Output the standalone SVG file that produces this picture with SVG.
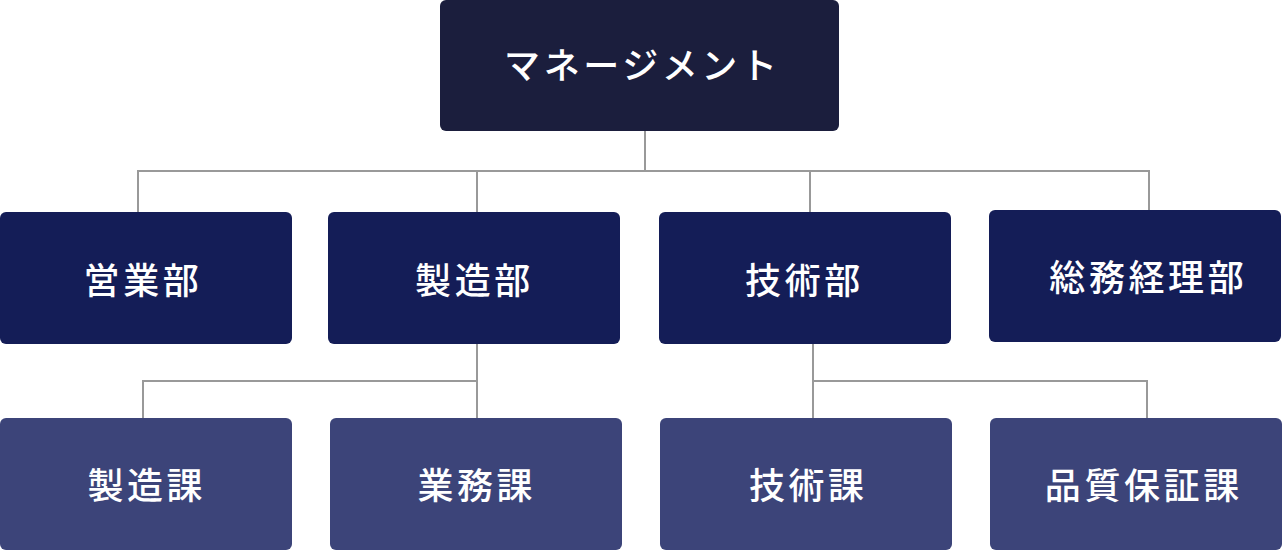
<svg xmlns="http://www.w3.org/2000/svg" width="1282" height="550" viewBox="0 0 1282 550">
  <style>
    .top { fill: #1b1e3d; }
    .dept { fill: #141d57; }
    .sec { fill: #3c4479; }
    .lbl { fill: #ffffff; font-family: "Noto Sans CJK JP", "Noto Sans", sans-serif; font-size: 36px; font-weight: 500; letter-spacing: 3.6px; text-anchor: middle; }
    .conn { fill: none; stroke: #999999; stroke-width: 2; }
  </style>
  <rect width="1282" height="550" fill="#ffffff"/>
  <g id="connectors">
    <path class="conn" d="M645 131 V171 M138 212 V171 H1149 V210 M477 171 V212 M810 171 V212"/>
    <path class="conn" d="M477 344 V381 M143 418 V381 H477 V418"/>
    <path class="conn" d="M813 344 V381 M813 381 V418 M813 381 H1147 V418"/>
  </g>
  <g id="management">
    <rect class="top" x="440" y="0" width="399" height="131" rx="6"/>
    <text class="lbl" x="642.3" y="79">マネージメント</text>
  </g>
  <g id="eigyobu">
    <rect class="dept" x="0" y="212" width="292" height="132" rx="6"/>
    <text class="lbl" x="143" y="293.5">営業部</text>
  </g>
  <g id="seizobu">
    <rect class="dept" x="328" y="212" width="292" height="132" rx="6"/>
    <text class="lbl" x="474.5" y="293.5">製造部</text>
  </g>
  <g id="gijutsubu">
    <rect class="dept" x="659" y="212" width="292" height="132" rx="6"/>
    <text class="lbl" x="804.5" y="293.5">技術部</text>
  </g>
  <g id="somukeiribu">
    <rect class="dept" x="989" y="210" width="292" height="132" rx="6"/>
    <text class="lbl" x="1148.3" y="291">総務経理部</text>
  </g>
  <g id="seizoka">
    <rect class="sec" x="0" y="418" width="292" height="132" rx="6"/>
    <text class="lbl" x="146.8" y="498.5">製造課</text>
  </g>
  <g id="gyomuka">
    <rect class="sec" x="330" y="418" width="292" height="132" rx="6"/>
    <text class="lbl" x="476.8" y="498.5">業務課</text>
  </g>
  <g id="gijutsuka">
    <rect class="sec" x="660" y="418" width="292" height="132" rx="6"/>
    <text class="lbl" x="808.3" y="498.5">技術課</text>
  </g>
  <g id="hinshitsuhoshoka">
    <rect class="sec" x="990" y="418" width="292" height="132" rx="6"/>
    <text class="lbl" x="1143.8" y="498.5">品質保証課</text>
  </g>
</svg>
